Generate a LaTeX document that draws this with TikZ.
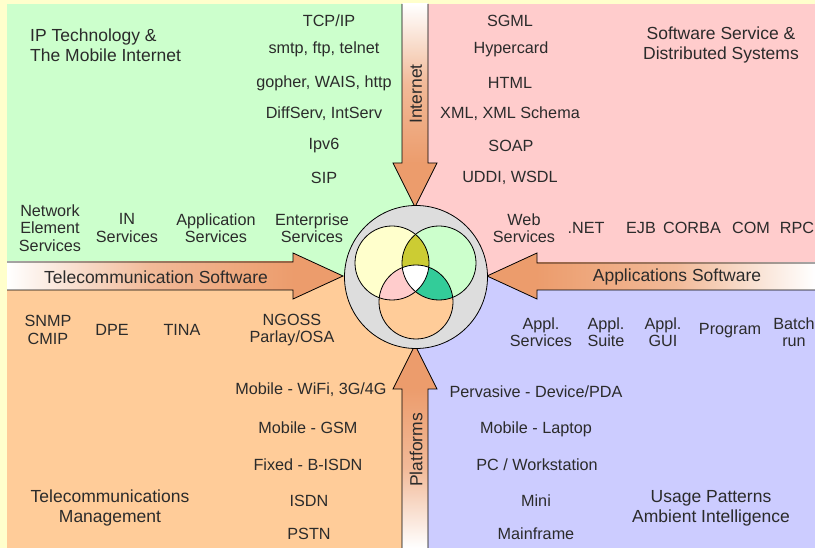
\documentclass[tikz,border=0pt]{standalone}
\usepackage{fontspec}
\setmainfont{Liberation Sans}
\definecolor{bgY}{HTML}{FFFFCC}
\definecolor{qG}{HTML}{CCFFCC}
\definecolor{qP}{HTML}{FFCCCC}
\definecolor{qO}{HTML}{FFCC99}
\definecolor{qL}{HTML}{CCCCFF}
\definecolor{ring}{HTML}{DDDDDD}
\definecolor{olive}{HTML}{CCCC33}
\definecolor{teal2}{HTML}{33CC99}
\definecolor{arr}{RGB}{236,156,108}
\definecolor{txt}{HTML}{2B2B2B}
\begin{document}
\begin{tikzpicture}[x=1pt,y=-1pt,
  lbl/.style={text=txt,font=\fontsize{16.2}{17.5}\selectfont,align=center,inner sep=0pt},
  ttl/.style={lbl,font=\fontsize{17.5}{20}\selectfont},
  outl/.style={draw=black,line width=0.8pt,line join=miter},
  circ/.style={draw=black,line width=0.8pt}]
\useasboundingbox (0,0) rectangle (815,548);
% background and quadrants
\fill[bgY] (0,0) rectangle (815,548);
\fill[qG] (7,4) rectangle (415,276);
\fill[qP] (415,4) rectangle (815,276);
\fill[qO] (7,276) rectangle (415,548);
\fill[qL] (415,276) rectangle (815,548);
% left arrow
\shade[left color=white,right color=arr,middle color=arr!70!white] (7,262) rectangle (294,290);
\fill[arr] (293,253) -- (343,276) -- (293,299) -- cycle;
\draw[outl] (7,262) -- (293,262) -- (293,253) -- (343,276) -- (293,299) -- (293,290) -- (7,290);
% right arrow
\shade[left color=arr,right color=white,middle color=arr!70!white] (536,263) rectangle (815,290);
\fill[arr] (537,253) -- (487,276) -- (537,299) -- cycle;
\draw[outl] (815,263) -- (537,263) -- (537,253) -- (487,276) -- (537,299) -- (537,290) -- (815,290);
% top arrow
\shade[top color=white,bottom color=arr,middle color=arr!70!white] (402,4) rectangle (428,164);
\fill[arr] (393,163) -- (415,207) -- (437,163) -- cycle;
\draw[outl] (402,4) -- (402,163) -- (393,163) -- (415,207) -- (437,163) -- (428,163) -- (428,4);
% bottom arrow
\shade[top color=arr,bottom color=white,middle color=arr!70!white] (402,388) rectangle (428,548);
\fill[arr] (393,389) -- (415,345) -- (437,389) -- cycle;
\draw[outl] (402,548) -- (402,389) -- (393,389) -- (415,345) -- (437,389) -- (428,389) -- (428,548);
% hub
\node[circle,draw=black,line width=0.8pt,fill=ring,minimum size=143pt,inner sep=0pt] (hub) at (416,277) {};
\coordinate (cy) at (392,263);
\coordinate (cg) at (439,263);
\coordinate (co) at (416,302);
\fill[bgY] (cy) circle (37);
\fill[qG] (cg) circle (37);
\fill[qO] (co) circle (37);
\begin{scope}
  \clip (cy) circle (37);
  \fill[olive] (cg) circle (37);
  \fill[qP] (co) circle (37);
\end{scope}
\begin{scope}
  \clip (cg) circle (37);
  \fill[teal2] (co) circle (37);
  \clip (cy) circle (37);
  \fill[white] (co) circle (37);
\end{scope}
\draw[circ] (cy) circle (37);
\draw[circ] (cg) circle (37);
\draw[circ] (co) circle (37);
% arrow labels
\node[ttl] (tsw) at (156,277) {Telecommunication Software};
\node[ttl] (asw) at (677,277) {Applications Software};
\node[ttl,rotate=90] (inet) at (416,94) {Internet};
\node[ttl,rotate=90] (plat) at (416,450) {Platforms};
% top-left
\node[ttl,align=left,anchor=west] (iptm) at (30,45) {IP Technology \&\\The Mobile Internet};
\node[lbl] (t1) at (329,21) {TCP/IP};
\node[lbl] (t2) at (324,49) {smtp, ftp, telnet};
\node[lbl] (t3) at (324,83) {gopher, WAIS, http};
\node[lbl] (t4) at (324,114) {DiffServ, IntServ};
\node[lbl] (t5) at (324,146) {Ipv6};
\node[lbl] (t6) at (324,178) {SIP};
\node[lbl] (nes) at (50,228) {Network\\Element\\Services};
\node[lbl] (ins) at (127,228) {IN\\Services};
\node[lbl] (aps) at (216,228) {Application\\Services};
\node[lbl] (ens) at (312,228) {Enterprise\\Services};
% top-right
\node[lbl] (s1) at (510,21) {SGML};
\node[lbl] (s2) at (511,49) {Hypercard};
\node[lbl] (s3) at (510,83) {HTML};
\node[lbl] (s4) at (510,114) {XML, XML Schema};
\node[lbl] (s5) at (511,146) {SOAP};
\node[lbl] (s6) at (510,178) {UDDI, WSDL};
\node[ttl] (ssd) at (721,45) {Software Service \&\\Distributed Systems};
\node[lbl] (ws) at (524,228) {Web\\Services};
\node[lbl] (net) at (586,228) {.NET};
\node[lbl] (ejb) at (641,228) {EJB};
\node[lbl] (corba) at (692,228) {CORBA};
\node[lbl] (com) at (751,228) {COM};
\node[lbl] (rpc) at (797,228) {RPC};
% bottom-left
\node[lbl] (snmp) at (48,330) {SNMP\\CMIP};
\node[lbl] (dpe) at (112,330) {DPE};
\node[lbl] (tina) at (182,330) {TINA};
\node[lbl] (ngoss) at (292,330) {NGOSS\\Parlay/OSA};
\node[lbl] (p1) at (311,390) {Mobile - WiFi, 3G/4G};
\node[lbl] (p2) at (308,428) {Mobile - GSM};
\node[lbl] (p3) at (308,465) {Fixed - B-ISDN};
\node[lbl] (p4) at (309,501) {ISDN};
\node[lbl] (p5) at (309,534) {PSTN};
\node[ttl] (tm) at (110,508) {Telecommunications\\Management};
% bottom-right
\node[lbl] (a1) at (541,332) {Appl.\\Services};
\node[lbl] (a2) at (606,332) {Appl.\\Suite};
\node[lbl] (a3) at (663,332) {Appl.\\GUI};
\node[lbl] (a4) at (730,331) {Program};
\node[lbl] (a5) at (794,332) {Batch\\run};
\node[lbl] (u1) at (536,392) {Pervasive - Device/PDA};
\node[lbl] (u2) at (536,429) {Mobile - Laptop};
\node[lbl] (u3) at (537,465) {PC / Workstation};
\node[lbl] (u4) at (536,501) {Mini};
\node[lbl] (u5) at (536,534) {Mainframe};
\node[ttl] (up) at (711,508) {Usage Patterns\\Ambient Intelligence};
\end{tikzpicture}
\end{document}
